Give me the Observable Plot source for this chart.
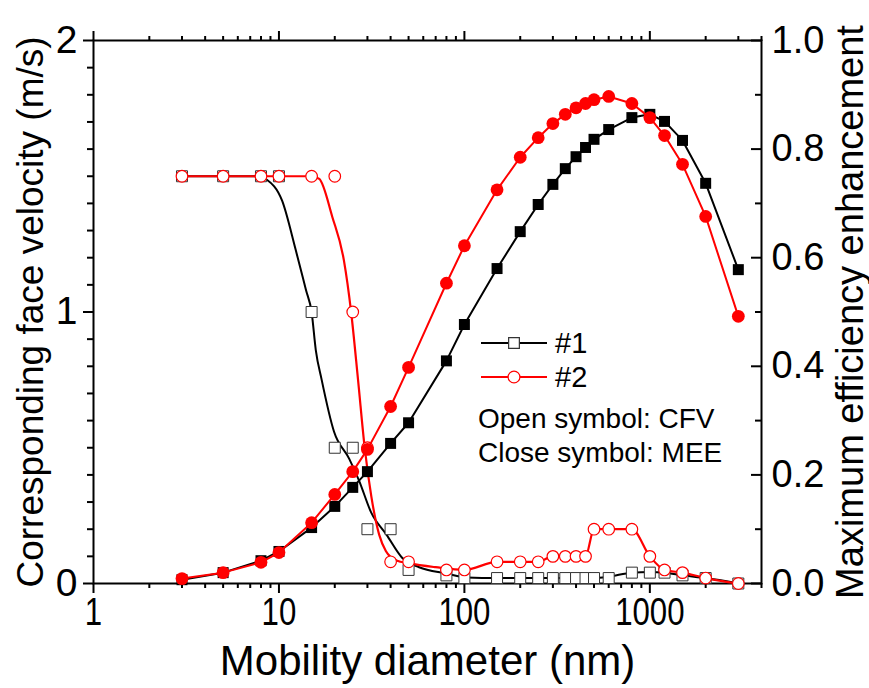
<!DOCTYPE html>
<html>
<head>
<meta charset="utf-8">
<script src="https://cdn.jsdelivr.net/npm/d3@7"></script>
<script src="https://cdn.jsdelivr.net/npm/@observablehq/plot@0.6"></script>
<style>
  body { margin: 0; background: #fff; }
  #chart svg { display: block; }
</style>
</head>
<body>
<div id="chart"></div>
<script>
// Mobility diameters (nm) of the measured points
const diameter = [3, 5, 8, 10, 15, 20, 25, 30, 40, 50, 80, 100, 150, 200, 250, 300, 350, 400, 450, 500, 600, 800, 1000, 1200, 1500, 2000, 3000];

// Corresponding face velocity, m/s (open symbols, left axis)
const cfv1 = [1.5, 1.5, 1.5, 1.5, 1.0, 0.5, 0.5, 0.2, 0.2, 0.05, 0.03, 0.02, 0.02, 0.02, 0.02, 0.02, 0.02, 0.02, 0.02, 0.02, 0.02, 0.04, 0.04, 0.04, 0.03, 0.02, 0.0];
const cfv2 = [1.5, 1.5, 1.5, 1.5, 1.5, 1.5, 1.0, 0.5, 0.08, 0.08, 0.05, 0.05, 0.08, 0.08, 0.08, 0.1, 0.1, 0.1, 0.1, 0.2, 0.2, 0.2, 0.1, 0.05, 0.04, 0.02, 0.0];

// Maximum efficiency enhancement (closed symbols, right axis)
const mee1 = [0.007, 0.02, 0.042, 0.059, 0.103, 0.142, 0.177, 0.206, 0.258, 0.296, 0.41, 0.477, 0.58, 0.648, 0.698, 0.735, 0.764, 0.786, 0.803, 0.818, 0.836, 0.858, 0.864, 0.851, 0.816, 0.737, 0.578];
const mee2 = [0.009, 0.02, 0.039, 0.057, 0.112, 0.164, 0.206, 0.247, 0.326, 0.398, 0.553, 0.622, 0.725, 0.785, 0.821, 0.847, 0.864, 0.876, 0.884, 0.891, 0.897, 0.884, 0.858, 0.825, 0.772, 0.676, 0.492];

// Smoothed face-velocity curves
const smooth1D = [3, 8, 8.5, 10.4, 12.3, 14, 15, 15.8, 17, 19.8, 23.9, 27, 31.5, 38, 46, 57, 80, 103, 150, 200, 250, 300, 350, 400, 450, 500, 600, 800, 1000, 1200, 1500, 2000, 3000];
const smooth1V = [1.5, 1.5, 1.49, 1.41, 1.23, 1.08, 1.0, 0.86, 0.75, 0.56, 0.46, 0.38, 0.26, 0.18, 0.096, 0.06, 0.037, 0.022, 0.02, 0.02, 0.02, 0.02, 0.02, 0.02, 0.02, 0.02, 0.025, 0.04, 0.042, 0.04, 0.03, 0.02, 0.0];
const smooth2D = [3, 15, 16.5, 19.4, 22.4, 24.5, 26.7, 29, 31.5, 34.7, 37.7, 43, 50.6, 70, 100, 150, 200, 250, 300, 350, 400, 450, 500, 600, 800, 1000, 1200, 1500, 2000, 3000];
const smooth2V = [1.5, 1.5, 1.49, 1.35, 1.19, 1.0, 0.75, 0.5, 0.32, 0.18, 0.12, 0.085, 0.074, 0.06, 0.05, 0.08, 0.08, 0.08, 0.1, 0.1, 0.1, 0.1, 0.2, 0.2, 0.2, 0.1, 0.05, 0.04, 0.02, 0.0];

// Axis ticks
const xMajor = [1, 10, 100, 1000];
const xMinor = [1, 10, 100, 1000].flatMap(p => [2, 3, 4, 5, 6, 7, 8, 9].map(m => m * p)).filter(v => v <= 4000);
const leftMajor = [0, 1, 2];
const leftMinor = d3.range(1, 20).map(i => i / 10).filter(v => v !== 1);
const rightMajor = [0, 0.2, 0.4, 0.6, 0.8, 1.0];
const rightMinor = [0.1, 0.3, 0.5, 0.7, 0.9];

// Right-axis values share the left y scale (1.0 on the right == 2 on the left)
const R = 2;

const rows = diameter.map((d, i) => ({d, cfv1: cfv1[i], cfv2: cfv2[i], mee1: mee1[i] * R, mee2: mee2[i] * R}));
const smooth1 = smooth1D.map((d, i) => ({d, v: smooth1V[i]}));
const smooth2 = smooth2D.map((d, i) => ({d, v: smooth2V[i]}));

const RED = "#ff0000";
const font = "'Liberation Sans', Arial, sans-serif";

const plot = Plot.plot({
  width: 869,
  height: 688,
  marginLeft: 93,
  marginRight: 108,
  marginTop: 40,
  marginBottom: 105,
  style: {fontFamily: font, background: "white", color: "black", overflow: "visible"},
  x: {type: "log", domain: [1, 4000]},
  y: {domain: [0, 2]},
  marks: [
    // bottom axis
    Plot.axisX({anchor: "bottom", ticks: xMinor, tickSize: 5, strokeWidth: 2, text: null, label: null}),
    Plot.axisX({anchor: "bottom", ticks: xMajor, tickSize: 10, strokeWidth: 2, tickPadding: 4, tickFormat: d => String(d),
      fontSize: 39, label: null}),
    // top mirror ticks
    Plot.axisX({anchor: "top", ticks: xMinor, tickSize: 5, strokeWidth: 2, text: null, label: null}),
    Plot.axisX({anchor: "top", ticks: xMajor, tickSize: 10, strokeWidth: 2, text: null, label: null}),
    // left axis
    Plot.axisY({anchor: "left", ticks: leftMinor, tickSize: 6, strokeWidth: 2, text: null, label: null}),
    Plot.axisY({anchor: "left", ticks: leftMajor, tickSize: 10, strokeWidth: 2, tickPadding: 6, tickFormat: d => String(d),
      fontSize: 39, label: null}),
    // right axis: inward ticks, labels outside
    Plot.axisY({anchor: "left", frameAnchor: "right", ticks: rightMinor.map(v => v * R), tickSize: 6, strokeWidth: 2, text: null, label: null}),
    Plot.axisY({anchor: "left", frameAnchor: "right", ticks: rightMajor.map(v => v * R), tickSize: 10, strokeWidth: 2, text: null, label: null}),
    Plot.axisY({anchor: "right", ticks: rightMajor.map(v => v * R), tickSize: 0, tickPadding: 10,
      tickFormat: d => (d / R).toFixed(1), fontSize: 38, label: null}),
    Plot.frame({stroke: "black", strokeWidth: 2}),

    // axis titles
    Plot.text(["Mobility diameter (nm)"], {frameAnchor: "bottom", dy: 78, fontSize: 42, lineAnchor: "middle", textAnchor: "middle"}),
    Plot.text(["Corresponding face velocity (m/s)"], {frameAnchor: "left", dx: -62, rotate: -90, fontSize: 37,
      lineAnchor: "middle", textAnchor: "middle"}),
    Plot.text(["Maximum efficiency enhancement"], {frameAnchor: "right", dx: 89, rotate: -90, fontSize: 38,
      lineAnchor: "middle", textAnchor: "middle"}),

    // corresponding face velocity (open symbols)
    Plot.line(smooth1, {x: "d", y: "v", stroke: "black", strokeWidth: 2, curve: "monotone-x"}),
    Plot.line(smooth2, {x: "d", y: "v", stroke: RED, strokeWidth: 2.2, curve: "monotone-x"}),
    Plot.dot(rows, {x: "d", y: "cfv1", symbol: "square", r: 6.2, fill: "white", stroke: "#333", strokeWidth: 1}),
    Plot.dot(rows, {x: "d", y: "cfv2", symbol: "circle", r: 5.8, fill: "white", stroke: RED, strokeWidth: 1.2}),

    // maximum efficiency enhancement (closed symbols)
    Plot.line(rows, {x: "d", y: "mee1", stroke: "black", strokeWidth: 2}),
    Plot.dot(rows, {x: "d", y: "mee1", symbol: "square", r: 6.2, fill: "black", stroke: "none"}),
    Plot.line(rows, {x: "d", y: "mee2", stroke: RED, strokeWidth: 2}),
    Plot.dot(rows, {x: "d", y: "mee2", symbol: "circle", r: 6.4, fill: RED, stroke: "none"})
  ]
});

const svg = d3.select(plot);

// Condensed look for the diameter tick labels
svg.selectAll('g[aria-label="x-axis tick label"] text')
  .attr("transform", function () { return (this.getAttribute("transform") || "") + " scale(0.8,1)"; });

// Legend for the two samples plus symbol notes
const legend = svg.append("g")
  .attr("transform", "translate(481,343)")
  .attr("font-family", font)
  .attr("font-size", 29)
  .attr("text-anchor", "start");
const entries = [
  {label: "#1", color: "black", symbol: d3.symbolSquare, size: 115, edge: "#333"},
  {label: "#2", color: RED, symbol: d3.symbolCircle, size: 110, edge: RED}
];
entries.forEach((e, i) => {
  const g = legend.append("g").attr("transform", `translate(0,${i * 34})`);
  g.append("line").attr("x1", 0).attr("x2", 66).attr("y1", 0).attr("y2", 0)
    .attr("stroke", e.color).attr("stroke-width", 2);
  g.append("path").attr("d", d3.symbol(e.symbol, e.size)())
    .attr("transform", "translate(33,0)")
    .attr("fill", "white").attr("stroke", e.edge).attr("stroke-width", 1.2);
  g.append("text").attr("x", 74).attr("y", 0).attr("dy", "0.36em").text(e.label);
});
legend.append("text").attr("x", -3).attr("y", 85).attr("font-size", 28).text("Open symbol: CFV");
legend.append("text").attr("x", -3).attr("y", 119).attr("font-size", 28).text("Close symbol: MEE");

document.getElementById("chart").appendChild(plot);
</script>
</body>
</html>
